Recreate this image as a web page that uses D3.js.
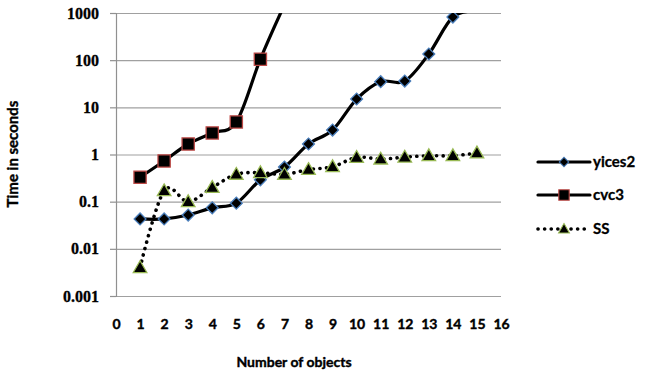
<!DOCTYPE html>
<html>
<head>
<meta charset="utf-8">
<script src="https://cdn.jsdelivr.net/npm/d3@7"></script>
<style>
  body { margin: 0; background: #fff; }
  svg { display: block; }
</style>
</head>
<body>
<svg id="vis" width="655" height="377"></svg>
<script>
// values (log scale, seconds)
const yicesX = [1, 2, 3, 4, 5, 6, 7, 8, 9, 10, 11, 12, 13, 14, 15];
const yicesY = [0.043, 0.043, 0.052, 0.074, 0.093, 0.29, 0.54, 1.67, 3.3, 15, 35, 36, 135, 820, 1100];
const cvcX = [1, 2, 3, 4, 5, 6, 7];
const cvcY = [0.33, 0.73, 1.67, 2.86, 4.9, 105, 1500];
const ssX = [1, 2, 3, 4, 5, 6, 7, 8, 9, 10, 11, 12, 13, 14, 15];
const ssY = [0.004, 0.17, 0.1, 0.2, 0.38, 0.41, 0.38, 0.48, 0.55, 0.87, 0.8, 0.88, 0.94, 0.94, 1.08];
const yTicks = [0.001, 0.01, 0.1, 1, 10, 100, 1000];
const xTicks = d3.range(0, 17);

const svg = d3.select("#vis");
const plot = { left: 116, right: 501, top: 13, bottom: 296 };

const x = d3.scaleLinear().domain([0, 16]).range([plot.left, plot.right]);
const y = d3.scaleLog().domain([0.001, 1000]).range([plot.bottom, plot.top]);

svg.append("defs").append("clipPath").attr("id", "clip")
  .append("rect")
  .attr("x", plot.left - 2).attr("y", plot.top)
  .attr("width", plot.right - plot.left + 4).attr("height", plot.bottom - plot.top);

// gridlines
svg.append("g")
  .attr("transform", `translate(${plot.left},0)`)
  .call(d3.axisLeft(y).tickValues(yTicks).tickSize(-(plot.right - plot.left)).tickFormat(""))
  .call(g => g.select(".domain").remove())
  .call(g => g.selectAll("line").attr("stroke", "#a0a0a0").attr("stroke-width", 1.2));

// y axis with labels
svg.append("g")
  .attr("transform", `translate(${plot.left},0)`)
  .call(d3.axisLeft(y).tickValues(yTicks).tickSize(6).tickPadding(11)
    .tickFormat(d => d >= 1 ? d3.format("d")(d) : String(d)))
  .call(g => g.select(".domain").attr("stroke", "#909090").attr("stroke-width", 1.2))
  .call(g => g.selectAll("line").attr("stroke", "#909090").attr("stroke-width", 1.2))
  .call(g => g.selectAll("text")
    .attr("font-family", "Liberation Serif, serif")
    .attr("font-weight", "bold")
    .attr("font-size", 16)
    .attr("fill", "#000")
    .attr("stroke", "#000").attr("stroke-width", 0.3));

// x axis labels
svg.append("g")
  .attr("transform", `translate(0,${plot.bottom})`)
  .call(d3.axisBottom(x).tickValues(xTicks).tickSize(0).tickPadding(23).tickFormat(d3.format("d")))
  .call(g => g.select(".domain").remove())
  .call(g => g.selectAll("text")
    .attr("font-family", "Lato, sans-serif")
    .attr("font-weight", "bold")
    .attr("font-size", 14)
    .attr("fill", "#000")
    .attr("stroke", "#000").attr("stroke-width", 0.4));

// axis titles
svg.append("text")
  .attr("x", 294).attr("y", 367)
  .attr("text-anchor", "middle")
  .attr("font-family", "Lato, sans-serif")
  .attr("font-weight", "bold")
  .attr("font-size", 14)
  .attr("stroke", "#000").attr("stroke-width", 0.4)
  .text("Number of objects");

svg.append("text")
  .attr("transform", "translate(18,154) rotate(-90)")
  .attr("text-anchor", "middle")
  .attr("font-family", "Lato, sans-serif")
  .attr("font-weight", "bold")
  .attr("font-size", 15)
  .attr("stroke", "#000").attr("stroke-width", 0.4)
  .text("Time in seconds");

const line = d3.line()
  .x(d => x(d[0]))
  .y(d => y(d[1]))
  .curve(d3.curveCatmullRom.alpha(0));

const series = [
  { name: "yices2", xs: yicesX, ys: yicesY, dash: null, stroke: "#4a7ebb", sym: "diamond", ly: 162, ls: 0.8 },
  { name: "cvc3", xs: cvcX, ys: cvcY, dash: null, stroke: "#be4b48", sym: "square", ly: 195, ls: 0.85 },
  { name: "SS", xs: ssX, ys: ssY, dash: "0.1 6.5", stroke: "#98b954", sym: "triangle", ly: 229, ls: 0.8 }
];

function marker(g, s) {
  if (s.sym === "diamond") {
    g.append("path").attr("d", d3.symbol(d3.symbolSquare, 70)()).attr("transform", "rotate(45)");
  } else if (s.sym === "square") {
    g.append("path").attr("d", d3.symbol(d3.symbolSquare, 150)());
  } else {
    g.append("path").attr("d", d3.symbol(d3.symbolTriangle, 80)()).attr("transform", "translate(0,1)");
  }
  g.selectAll("path").attr("fill", "#000").attr("stroke", s.stroke).attr("stroke-width", 1.3);
}

const plotG = svg.append("g").attr("clip-path", "url(#clip)");

series.forEach(s => {
  const pts = s.xs.map((v, i) => [v, s.ys[i]]);
  plotG.append("path")
    .datum(pts)
    .attr("fill", "none")
    .attr("stroke", "#000")
    .attr("stroke-width", s.dash ? 3.6 : 3.2)
    .attr("stroke-linecap", "round")
    .attr("stroke-dasharray", s.dash)
    .attr("d", line);
});

series.forEach(s => {
  const pts = s.xs.map((v, i) => [v, s.ys[i]]).filter(d => d[1] <= 1000);
  plotG.selectAll(null)
    .data(pts)
    .join("g")
    .attr("transform", d => `translate(${x(d[0])},${y(d[1])})`)
    .each(function() { marker(d3.select(this), s); });
});

// legend
const legend = svg.append("g");
series.forEach(s => {
  const lg = legend.append("g").attr("transform", `translate(538,${s.ly})`);
  lg.append("line")
    .attr("x1", 0).attr("x2", 52)
    .attr("stroke", "#000")
    .attr("stroke-width", s.dash ? 3.6 : 3.2)
    .attr("stroke-linecap", "round")
    .attr("stroke-dasharray", s.dash);
  marker(lg.append("g").attr("transform", `translate(26,0) scale(${s.ls})`), s);
  lg.append("text")
    .attr("x", 55).attr("y", 5)
    .attr("font-family", "Lato, sans-serif")
    .attr("font-weight", "bold")
    .attr("font-size", 15)
    .attr("stroke", "#000").attr("stroke-width", 0.3)
    .text(s.name);
});
</script>
</body>
</html>
